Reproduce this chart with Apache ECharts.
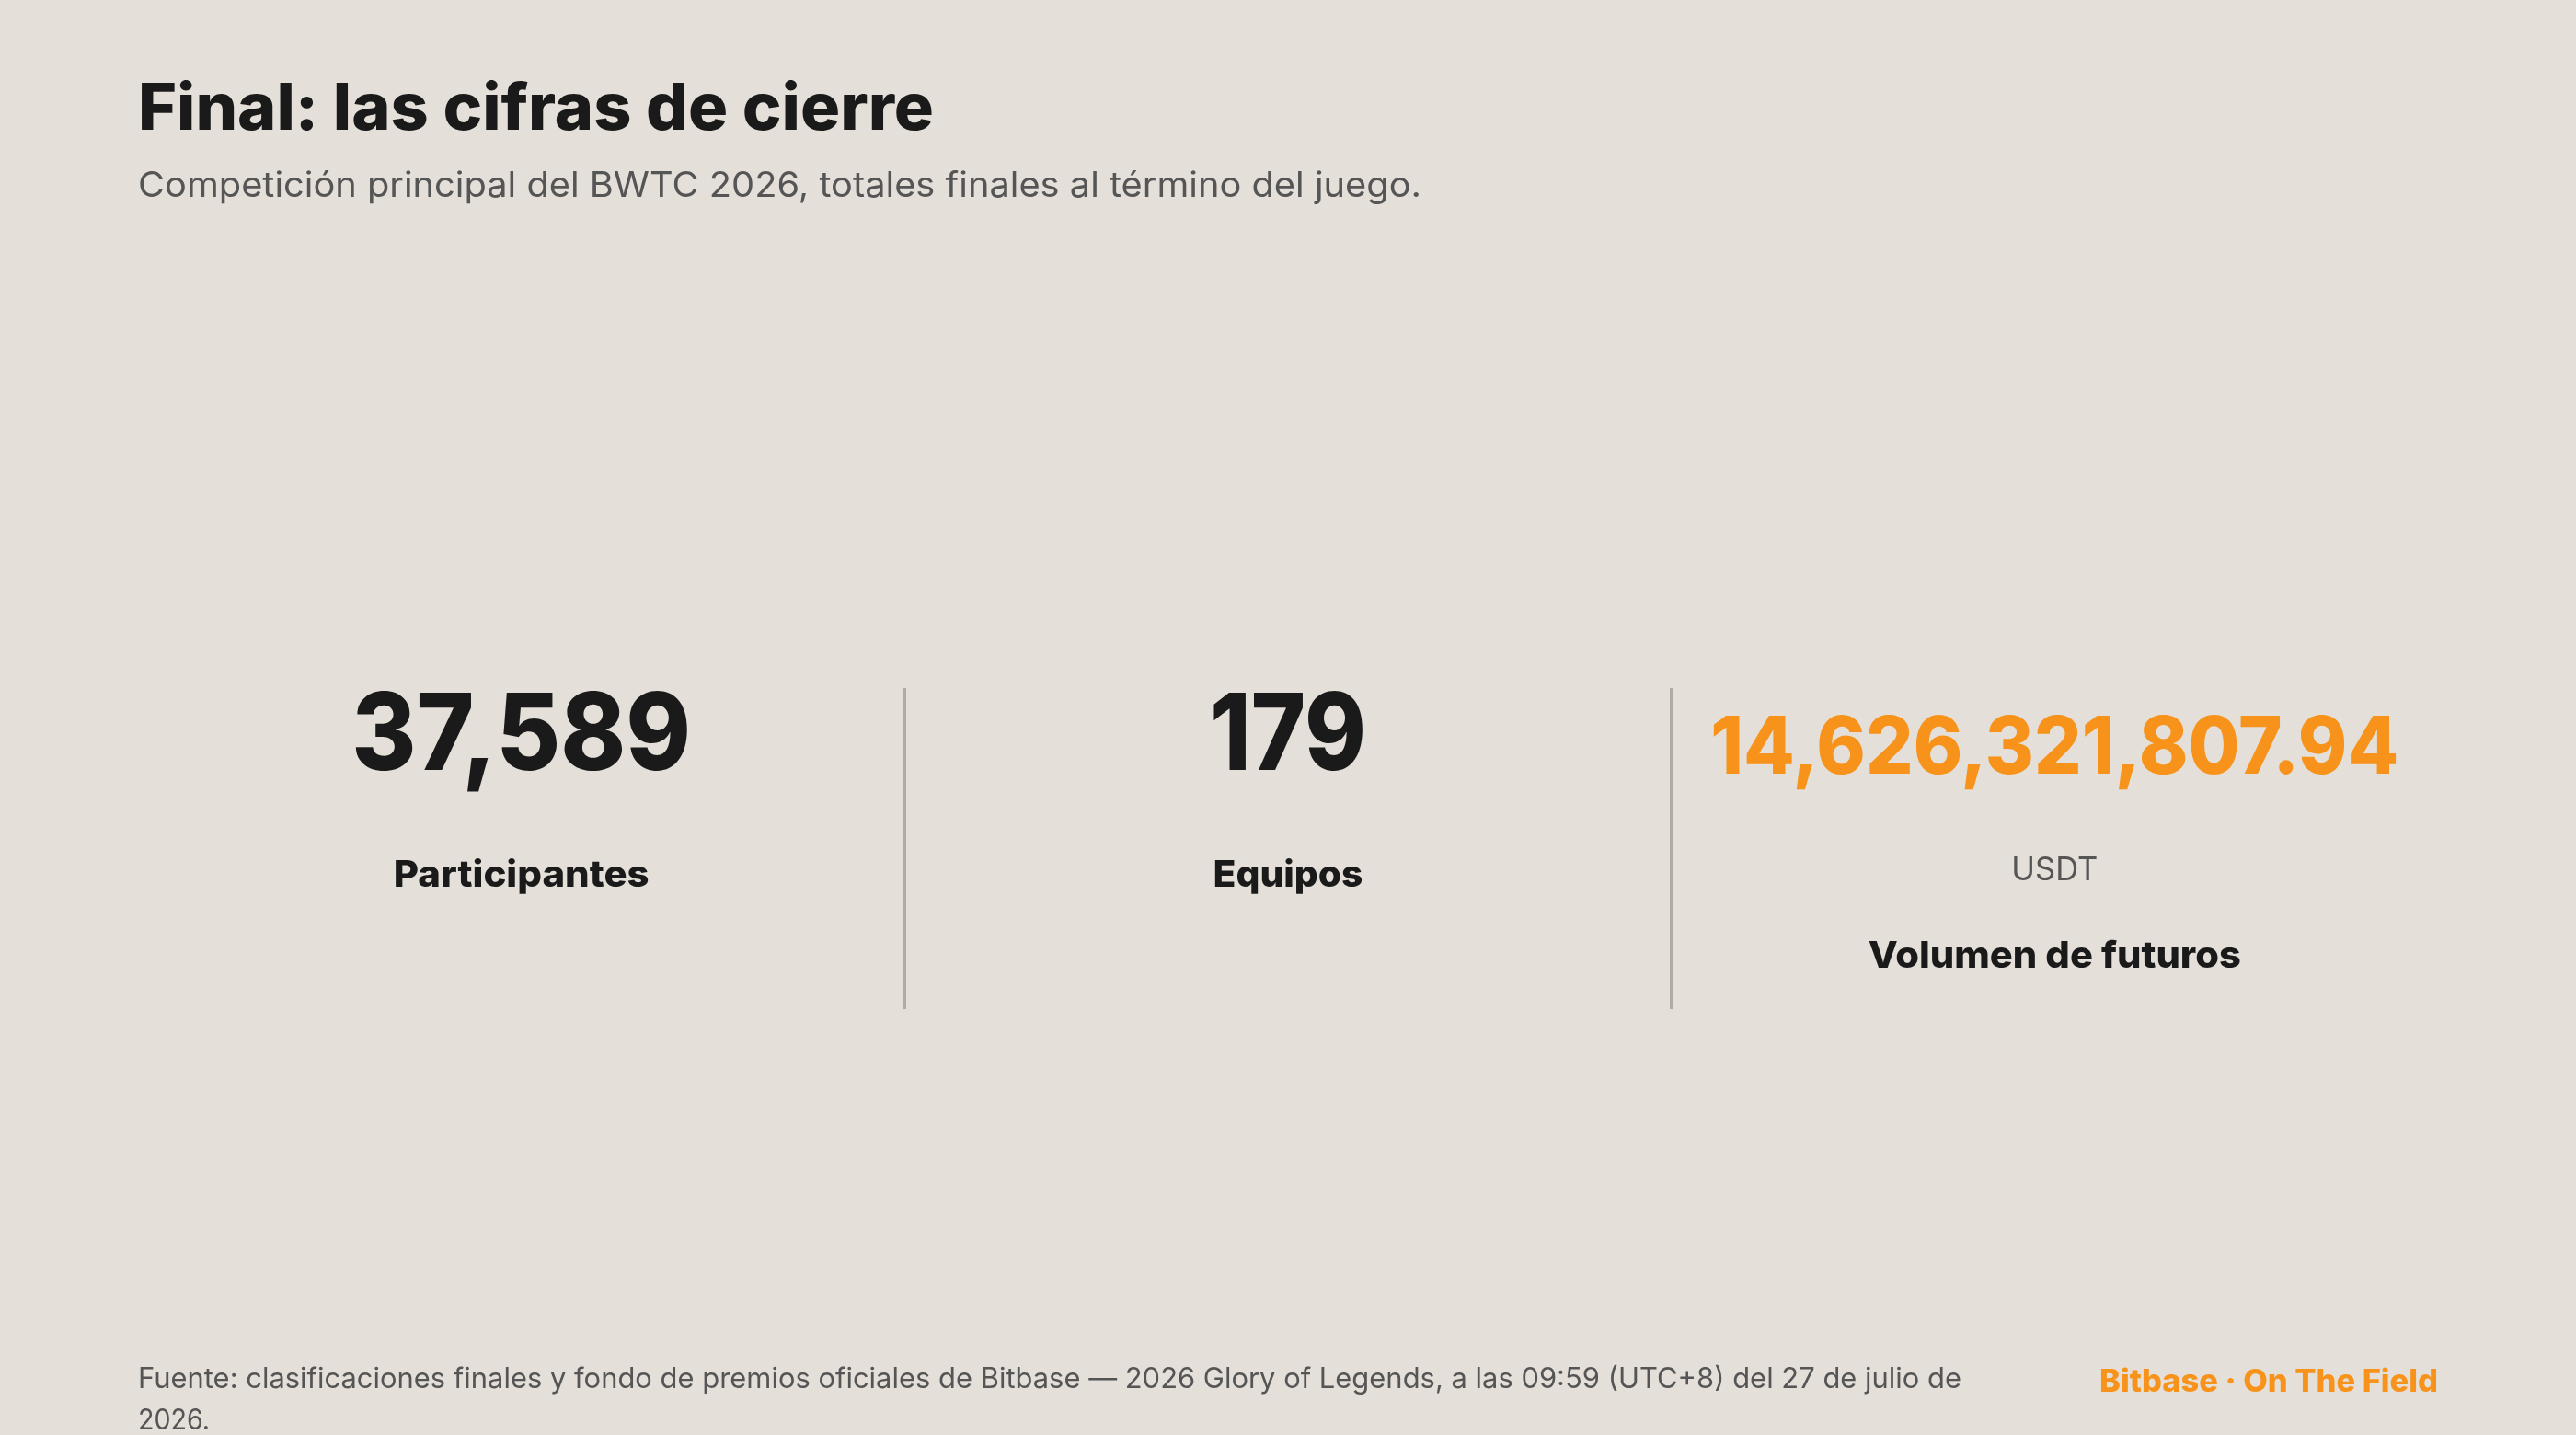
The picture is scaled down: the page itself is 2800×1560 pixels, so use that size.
<!DOCTYPE html>
<html>
<head>
<meta charset="utf-8">
<title>Final: las cifras de cierre</title>
<script src="https://cdn.jsdelivr.net/npm/echarts@6/dist/echarts.min.js"></script>
<style>
  html, body { margin: 0; padding: 0; background: #e4dfd9; }
  #chart { width: 2800px; height: 1560px; }
</style>
</head>
<body>
<div id="chart"></div>
<script>
const titleText = 'Final: las cifras de cierre';
const subtitleText = 'Competición principal del BWTC 2026, totales finales al término del juego.';
const kpiLabels = ['Participantes', 'Equipos', 'Volumen de futuros'];
const kpiValues = ['37,589', '179', '14,626,321,807.94'];
const kpiUnits = ['', '', 'USDT'];
const sourceLines = [
  'Fuente: clasificaciones finales y fondo de premios oficiales de Bitbase — 2026 Glory of Legends, a las 09:59 (UTC+8) del 27 de julio de',
  '2026.'
];
const brandText = 'Bitbase · On The Field';

const FONT = 'Inter';
const INK = '#1a1a1a';
const GREY = '#555555';
const ORANGE = '#f7931a';

// Poppins is not installed, so squeeze the fallback to the original text widths
const measure = document.createElement('canvas').getContext('2d');
function fit(text, size, weight, width) {
  measure.font = weight + ' ' + size + 'px ' + FONT;
  return width / measure.measureText(text).width;
}

function label(text, x, baseline, size, weight, color, align, width) {
  return {
    type: 'text',
    x: x,
    y: baseline - size * 0.28,
    scaleX: width ? fit(text, size, weight, width) : 1,
    silent: true,
    style: {
      text: text,
      fill: color,
      font: weight + ' ' + size + 'px ' + FONT,
      align: align,
      verticalAlign: 'middle'
    }
  };
}

// value: [size, baseline, width], per column
const valueStyle = [[116, 835, 369], [116, 835, 170], [87, 839, 748]];
const labelStyle = [[40, 963, 278], [40, 963, 163], [40, 1051, 405]];

function renderKpi(params, api) {
  const i = params.dataIndex;
  const x = api.coord([i, 0])[0];
  const v = valueStyle[i];
  const l = labelStyle[i];
  const children = [
    label(kpiValues[i], x, v[1], v[0], 800, i === 2 ? ORANGE : INK, 'center', v[2]),
    label(kpiLabels[i], x, l[1], l[0], 800, INK, 'center', l[2])
  ];
  if (kpiUnits[i]) {
    children.push(label(kpiUnits[i], x, 956, 36, 400, GREY, 'center', 94));
  }
  return { type: 'group', children: children };
}

const chart = echarts.init(document.getElementById('chart'), null, { renderer: 'canvas' });

chart.setOption({
  backgroundColor: '#e4dfd9',
  animation: false,
  grid: { left: 150, right: 150, top: 748, height: 349 },
  xAxis: {
    type: 'category',
    data: kpiLabels,
    axisLine: { show: false },
    axisTick: { show: false },
    axisLabel: { show: false },
    splitLine: {
      show: true,
      interval: 0,
      showMinLine: false,
      showMaxLine: false,
      lineStyle: { color: '#b0aca2', width: 3 }
    }
  },
  yAxis: { type: 'value', show: false, min: 0, max: 1, splitLine: { show: false } },
  series: [{
    type: 'custom',
    clip: false,
    silent: true,
    renderItem: renderKpi,
    data: kpiValues.map(function (v, i) { return [i, 0]; })
  }],
  graphic: [
    label(titleText, 150, 140, 70, 800, INK, 'left', 865),
    label(subtitleText, 150, 213, 38, 400, GREY, 'left', 1395),
    label(sourceLines[0], 150, 1508, 31, 400, GREY, 'left', 1982),
    label(sourceLines[1], 150, 1553, 31, 400, GREY, 'left', 78),
    label(brandText, 2650, 1512, 34, 800, ORANGE, 'right', 368)
  ]
});
</script>
</body>
</html>
